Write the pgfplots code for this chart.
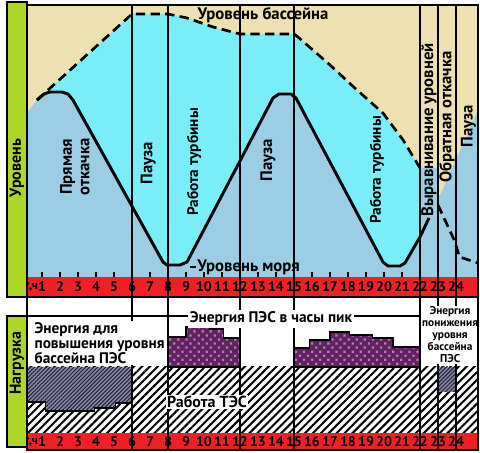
\documentclass[border=0pt]{standalone}
\usepackage{fontspec}
\setmainfont{PT Sans}
\usepackage{pgfplots}
\pgfplotsset{compat=1.18}
\usetikzlibrary{patterns.meta}

\definecolor{beige}{RGB}{238,224,176}
\definecolor{aqua}{RGB}{122,238,248}
\definecolor{sea}{RGB}{155,205,228}
\definecolor{stripred}{RGB}{238,32,36}
\definecolor{barg}{RGB}{172,214,40}
\definecolor{peak}{RGB}{95,35,95}
\definecolor{peakdot}{RGB}{185,120,185}
\definecolor{pumpbg}{RGB}{140,140,165}
\definecolor{pumpln}{RGB}{30,30,60}

\pgfplotsset{
  hourax/.style={
    scale only axis, width=338.25pt,
    xmin=0.1667, xmax=25.2222,
    xtick={1,...,24}, major tick length=0pt, ytick=\empty,
    axis line style={line width=1.3pt}, axis on top,
    /pgf/number format/assume math mode=true,
    xticklabel style={anchor=center, font=\bfseries\fontsize{10.5}{11}\selectfont},
  },
  vline/.style={black, line width=1.3pt},
}
\newcommand{\lbl}{\bfseries\fontsize{12.5}{13}\selectfont}

\begin{document}
\begin{tikzpicture}
% ---------- upper panel: levels ----------
\begin{axis}[hourax, name=top, height=219pt, ymin=0, ymax=292,
  xticklabel style={yshift=7.5pt}]
\addplot[draw=none, fill=beige] coordinates {(0.1667,20) (0.1667,292) (25.2222,292) (25.2222,20)} -- cycle;
% basin between basin level and sea level
\addplot[draw=none, fill=aqua] coordinates {
  (0.722,197) (6,283) (8,283) (9.06,279) (10.5,270) (12,263) (15,263) (15.22,260)
  (17,232) (18.5,207) (19.94,184) (21.06,157) (22,129)
  (22,60) (21.167,34) (20.889,31) (20.222,31) (19.944,35) (15.111,199) (14.833,203)
  (14.167,203) (13.833,199) (9.056,35) (8.667,32) (7.944,32) (7.722,35) (2.722,197)
  (2.444,203) (2.111,205) (1.444,205) (1.111,203) (0.722,197)} -- cycle;
% sea
\addplot[draw=none, fill=sea] coordinates {
  (0.1667,20) (0.1667,184) (0.722,197) (1.111,203) (1.444,205) (2.111,205) (2.444,203)
  (2.722,197) (7.722,35) (7.944,32) (8.667,32) (9.056,35) (13.833,199) (14.167,203)
  (14.833,203) (15.111,199) (19.944,35) (20.222,31) (20.889,31) (21.167,34) (22,60)
  (22,129) (23,129) (23,97) (25.2222,187) (25.2222,20)} -- cycle;
\addplot[draw=none, fill=stripred] coordinates {(0.1667,0) (0.1667,20) (25.2222,20) (25.2222,0)} -- cycle;
% sea level
\addplot[black, line width=2.2pt, line join=round] coordinates {
  (0.722,197) (1.111,203) (1.444,205) (2.111,205) (2.444,203) (2.722,197) (7.722,35)
  (7.944,32) (8.667,32) (9.056,35) (13.833,199) (14.167,203) (14.833,203) (15.111,199)
  (19.944,35) (20.222,31) (20.889,31) (21.167,34) (22,60) (22.5,79)};
% basin level
\addplot[black, line width=2pt, dash pattern=on 7pt off 4pt] coordinates {
  (0.722,197) (6,283) (8,283) (9.06,279) (10.5,270) (12,263) (15,263) (15.22,260)
  (17,232) (18.5,207) (19.94,184) (21.06,157) (22,129)};
\addplot[black, line width=2pt, dash pattern=on 7pt off 4pt] coordinates {
  (23,92) (23.9,57) (24.2,40) (25.2222,34)};
\pgfplotsinvokeforeach{6,8,12,15,22,23,24}{
  \addplot[vline] coordinates {(#1,0) (#1,292)};
}
\pgfplotsinvokeforeach{1,...,24}{
  \draw[line width=1pt] (axis cs:#1,20) -- (axis cs:#1,25);
}
\node[font=\bfseries\fontsize{9}{10}\selectfont] at (axis cs:0.42,10) {\textit{t},ч};
\node[font=\lbl] at (axis cs:13.28,282) {Уровень бассейна};
\draw[line width=1pt] (axis cs:9.2,30) -- (axis cs:9.55,30);
\node[font=\lbl, anchor=west, inner sep=1pt] at (axis cs:9.55,30) {Уровень моря};
\node[font=\bfseries\fontsize{12.5}{13}\selectfont, rotate=90, align=center] at (axis cs:2.83,130) {Прямая\\откачка};
\node[font=\lbl, rotate=90] at (axis cs:6.9,134) {Пауза};
\node[font=\bfseries\fontsize{11.5}{12}\selectfont, rotate=90] at (axis cs:9.45,135) {Работа турбины};
\node[font=\lbl, rotate=90] at (axis cs:13.55,137) {Пауза};
\node[font=\bfseries\fontsize{11.5}{12}\selectfont, rotate=90] at (axis cs:19.6,127) {Работа турбины};
\node[font=\lbl, rotate=90] at (axis cs:22.5,167) {Выравнивание уровней};
\node[font=\lbl, rotate=90] at (axis cs:23.5,180) {Обратная откачка};
\node[font=\lbl, rotate=90] at (axis cs:24.7,171) {Пауза};
\end{axis}

% ---------- lower panel: load ----------
\begin{axis}[hourax, name=bot, at={(top.south west)}, anchor=north west,
  height=114.75pt, ymin=0, ymax=153, xticklabel style={yshift=6.4pt}]
% thermal plant base load
\addplot[draw=none, pattern={Lines[angle=45,distance=4.2pt,line width=1.5pt]}, pattern color=black]
  coordinates {(0.1667,17) (0.1667,83) (25.2222,83) (25.2222,17)} -- cycle;
% pumping energy
\addplot[draw=none, fill=pumpbg, postaction={pattern={Lines[angle=45,distance=2.1pt,line width=0.8pt]}, pattern color=pumpln}]
  coordinates {(0.1667,83) (6,83) (6,47) (5.1,47) (5.1,42) (3.9,42) (3.9,39) (1.2,39) (1.2,48) (0.1667,48)} -- cycle;
\addplot[black, line width=0.9pt] coordinates {(0.1667,48) (1.2,48) (1.2,39) (3.9,39) (3.9,42) (5.1,42) (5.1,47) (6,47)};
\addplot[draw=none, fill=pumpbg, postaction={pattern={Lines[angle=45,distance=2.1pt,line width=0.8pt]}, pattern color=pumpln}]
  coordinates {(23,83) (24,83) (24,58) (23,58)} -- cycle;
% peak energy
\addplot[draw=black, line width=0.9pt, fill=peak, postaction={pattern={Dots[distance=4.3pt,radius=1.2pt,angle=45]}, pattern color=peakdot}]
  coordinates {(8,83) (8,113) (9,113) (9,123) (10.3,123) (10.3,121) (11.1,121) (11.1,112) (12,112) (12,83)} -- cycle;
\addplot[draw=black, line width=0.9pt, fill=peak, postaction={pattern={Dots[distance=4.3pt,radius=1.2pt,angle=45]}, pattern color=peakdot}]
  coordinates {(15,83) (15,102) (15.85,102) (15.85,110) (17,110) (17,118) (18.1,118) (18.1,115)
  (19.35,115) (19.35,112) (20.5,112) (20.5,103) (22,103) (22,83)} -- cycle;
\addplot[draw=none, fill=stripred] coordinates {(0.1667,0) (0.1667,17) (25.2222,17) (25.2222,0)} -- cycle;
\pgfplotsinvokeforeach{6,8,12,15,22,23,24}{
  \addplot[vline] coordinates {(#1,0) (#1,153)};
}
\addplot[vline] coordinates {(0.1667,134) (25.2222,134)};
\node[font=\bfseries\fontsize{9}{10}\selectfont] at (axis cs:0.42,8.5) {\textit{t},ч};
\node[font=\bfseries\fontsize{11.5}{11}\selectfont, fill=white, align=left, anchor=west, inner sep=1pt]
  at (axis cs:0.5,107) {Энергия для\\повышения уровня\\бассейна ПЭС};
\node[font=\bfseries\fontsize{11.5}{13}\selectfont, fill=white, inner sep=1.5pt] at (axis cs:13.72,131) {Энергия ПЭС в часы пик};
\node[font=\bfseries\fontsize{8.5}{9}\selectfont, fill=white, align=center, inner sep=1pt]
  at (axis cs:23.67,115) {Энергия\\понижения\\уровня\\бассейна\\ПЭС};
\node[font=\bfseries\fontsize{12}{13}\selectfont, fill=white, inner sep=1pt] at (axis cs:10.17,48) {Работа ТЭС};
\end{axis}

% side bars
\draw[line width=1.3pt, fill=barg] ([xshift=-15pt,yshift=2.25pt]top.north west) rectangle (top.south west);
\node[font=\bfseries\fontsize{12}{12}\selectfont, rotate=90] at ([xshift=-7.5pt,yshift=-122.25pt]top.north west) {Уровень};
\draw[line width=1.3pt, fill=barg] ([xshift=-15pt,yshift=-14.25pt]bot.north west) rectangle ([yshift=-112.5pt]bot.north west);
\node[font=\bfseries\fontsize{12}{12}\selectfont, rotate=90] at ([xshift=-7.5pt,yshift=-49.5pt]bot.north west) {Нагрузка};
\path ([shift={(-20.25pt,3.75pt)}]top.north west) rectangle ++(360pt,-339.75pt);
\end{tikzpicture}
\end{document}
